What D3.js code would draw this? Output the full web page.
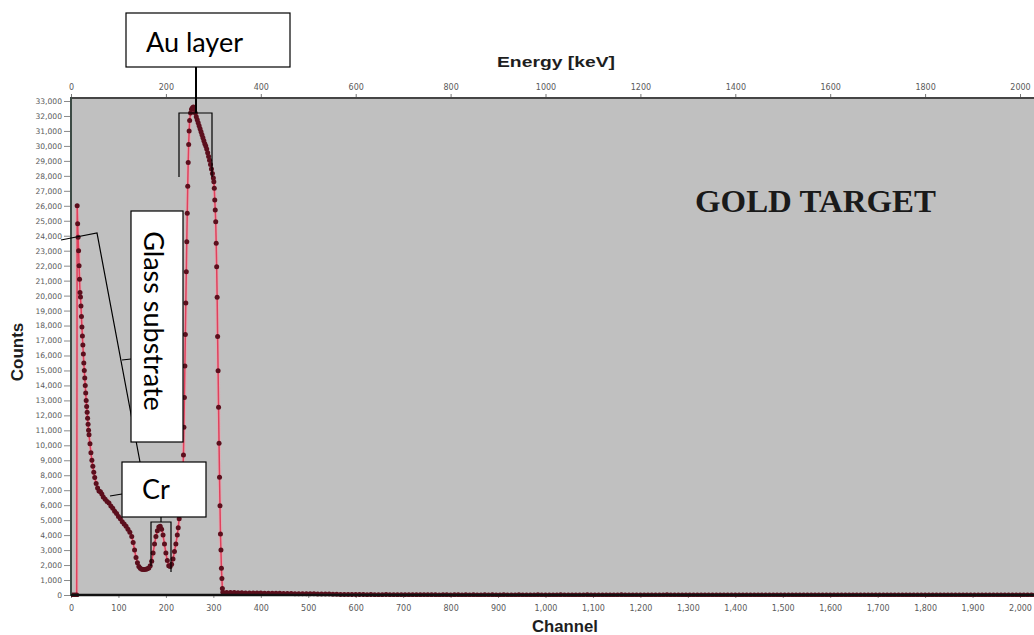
<!DOCTYPE html>
<html>
<head>
<meta charset="utf-8">
<script src="https://cdn.jsdelivr.net/npm/d3@7"></script>
<style>
  body { margin: 0; background: #fff; }
  svg { display: block; }
</style>
</head>
<body>
<svg id="chart" width="1034" height="635"></svg>
<script>
// Spectrum: channel numbers and measured counts (Au / Cr / glass RBS spectrum)
const channel = [
  0, 4, 8, 12, 13, 14, 15, 16, 17, 18, 19, 20, 21, 22, 23, 24, 25, 26, 27, 28,
  29, 30, 31, 32, 33, 34, 35, 36, 37, 38, 40, 42, 44, 46, 48, 50, 53, 56, 59, 62,
  65, 68, 72, 76, 80, 84, 88, 92, 96, 100, 104, 108, 112, 116, 120, 124, 128, 131, 134, 137,
  140, 143, 146, 149, 152, 155, 158, 161, 164, 167, 170, 173, 176, 179, 182, 185, 188, 191, 194, 197,
  200, 203, 206, 209, 212, 215, 218, 221, 224, 226, 228, 230, 232, 234, 236, 237, 238, 239, 240, 241,
  242, 243, 244, 245, 246, 247, 248, 249, 250, 252, 254, 256, 258, 260, 262, 264, 266, 268, 270, 272,
  274, 276, 278, 280, 282, 284, 286, 288, 290, 292, 294, 296, 298, 300, 301, 302, 303, 304, 305, 306,
  307, 308, 309, 310, 311, 312, 313, 314, 315, 316, 317, 318, 319, 320
];
const counts = [
  0, 0, 0, 0, 26000, 24800, 23900, 23000, 22000, 21100, 20200, 19900, 19300, 18600, 17900, 17300, 16700, 16100, 15500, 15000,
  14500, 14000, 13500, 13000, 12600, 12200, 11800, 11400, 11000, 10700, 10100, 9500, 9000, 8600, 8200, 7850, 7450, 7150, 6950, 6900,
  6750, 6550, 6400, 6250, 6150, 5950, 5800, 5600, 5450, 5250, 5100, 4900, 4750, 4600, 4400, 4200, 3900, 3500, 3000, 2500,
  2150, 1900, 1780, 1720, 1700, 1700, 1720, 1760, 1800, 1950, 2250, 2800, 3400, 3900, 4300, 4550, 4600, 4400, 4000, 3400,
  2800, 2300, 1950, 1900, 2050, 2400, 2900, 3400, 4000, 4500, 5100, 5700, 6500, 7500, 8500, 9350, 11200, 13200, 15300, 17400,
  19500, 21600, 23600, 25500, 27300, 28900, 30100, 31000, 31700, 32200, 32450, 32550, 32600, 32450, 32200, 31950, 31750, 31550, 31350, 31150,
  30950, 30750, 30550, 30350, 30150, 30000, 29800, 29550, 29300, 29050, 28750, 28450, 28150, 27850, 27600, 27170, 26390, 25720, 24940, 23490,
  21930, 19890, 17260, 14980, 12540, 10130, 7860, 5970, 4070, 3000, 1780, 1110, 440, 180
];

// Background tail beyond the Au edge, one reading every 8 channels from channel 328
const tailStart = 328;
const tailStep = 8;
const tailCounts = [
  170, 160, 160, 150, 150, 140, 140, 130, 130, 130, 120, 120, 120, 110, 110, 100, 100, 100, 90, 90,
  90, 80, 80, 80, 70, 70, 60, 60, 50, 50, 40, 40, 40, 30, 30, 30, 30, 20, 30, 20,
  20, 20, 30, 20, 20, 10, 20, 20, 10, 20, 10, 10, 20, 10, 10, 10, 0, 10, 10, 0,
  10, 10, 0, 10, 0, 10, 0, 0, 10, 0, 10, 0, 0, 10, 0, 0, 0, 10, 0, 0,
  0, 0, 10, 0, 0, 0, 0, 0, 10, 0, 0, 0, 0, 0, 0, 10, 0, 0, 0, 0,
  0, 0, 0, 0, 10, 0, 0, 0, 0, 0, 0, 0, 0, 0, 0, 0, 10, 0, 0, 0,
  0, 0, 0, 0, 0, 0, 0, 0, 0, 0, 0, 0, 0, 0, 0, 0, 0, 0, 0, 0,
  0, 0, 0, 0, 0, 0, 0, 0, 0, 0, 0, 0, 0, 0, 0, 0, 0, 0, 0, 0,
  0, 0, 0, 0, 0, 0, 0, 0, 0, 0, 0, 0, 0, 0, 0, 0, 0, 0, 0, 0,
  0, 0, 0, 0, 0, 0, 0, 0, 0, 0, 0, 0, 0, 0, 0, 0, 0, 0, 0, 0,
  0, 0, 0, 0, 0, 0, 0, 0, 0, 0, 0, 0, 0, 0, 0
];

// Axis tick values
const countTicks = [0, 1000, 2000, 3000, 4000, 5000, 6000, 7000, 8000, 9000, 10000, 11000, 12000,
  13000, 14000, 15000, 16000, 17000, 18000, 19000, 20000, 21000, 22000, 23000, 24000, 25000,
  26000, 27000, 28000, 29000, 30000, 31000, 32000, 33000];
const channelTicks = [0, 100, 200, 300, 400, 500, 600, 700, 800, 900, 1000, 1100, 1200, 1300,
  1400, 1500, 1600, 1700, 1800, 1900, 2000];
const energyTicks = [0, 200, 400, 600, 800, 1000, 1200, 1400, 1600, 1800, 2000];

// Callout texts
const auLabel = "Au layer";
const glassLabel = "Glass substrate";
const crLabel = "Cr";
const titleText = "GOLD TARGET";

const points = channel.map((c, i) => ({ ch: c, n: counts[i] }))
  .concat(tailCounts.map((n, i) => ({ ch: tailStart + i * tailStep, n })));

const svg = d3.select("#chart");
const W = 1034, H = 635;
const plot = { left: 71, top: 98, bottom: 595, right: W + 4 };

const x = d3.scaleLinear().domain([0, 2000]).range([71, 1020]);
const xE = d3.scaleLinear().domain([0, 2000]).range([71, 1020]);
const y = d3.scaleLinear().domain([0, 33000]).range([595, 101]);

svg.append("rect").attr("width", W).attr("height", H).attr("fill", "#fff");

// plot background
svg.append("rect")
  .attr("x", plot.left).attr("y", plot.top)
  .attr("width", plot.right - plot.left).attr("height", plot.bottom - plot.top)
  .attr("fill", "#c0c0c0");

svg.append("clipPath").attr("id", "plotclip")
  .append("rect")
  .attr("x", plot.left).attr("y", plot.top - 2)
  .attr("width", plot.right - plot.left).attr("height", plot.bottom - plot.top + 4);

const tickFont = "'DejaVu Sans', sans-serif";

// left axis (counts)
const gy = svg.append("g").attr("transform", `translate(${plot.left},0)`)
  .call(d3.axisLeft(y).tickValues(countTicks).tickSize(7).tickPadding(2).tickFormat(d3.format(",")));
gy.select(".domain").remove();
gy.selectAll(".tick line").attr("stroke", "#8a8a8a").attr("x2", -7).attr("x1", -1);
gy.selectAll(".tick text").attr("fill", "#5a5a5a").style("font-family", tickFont).style("font-size", "7.6px");

// bottom axis (channel)
const gx = svg.append("g").attr("transform", `translate(0,${plot.bottom})`)
  .call(d3.axisBottom(x).tickValues(channelTicks).tickSize(3).tickPadding(7).tickFormat(d3.format(",")));
gx.select(".domain").remove();
gx.selectAll(".tick line").attr("stroke", "#8a8a8a");
gx.selectAll(".tick text").attr("fill", "#5a5a5a").style("font-family", tickFont).style("font-size", "8px");

// top axis (energy)
const gt = svg.append("g").attr("transform", `translate(0,${plot.top})`)
  .call(d3.axisTop(xE).tickValues(energyTicks).tickSize(4).tickPadding(4).tickFormat(d3.format("d")));
gt.select(".domain").remove();
gt.selectAll(".tick line").attr("stroke", "#777");
gt.selectAll(".tick text").attr("fill", "#5a5a5a").style("font-family", tickFont).style("font-size", "8px");

// spectrum line and markers
const gData = svg.append("g").attr("clip-path", "url(#plotclip)");
const line = d3.line().x(d => x(d.ch)).y(d => y(d.n));
gData.append("path").datum(points)
  .attr("d", line).attr("fill", "none")
  .attr("stroke", "#f0a0ac").attr("stroke-width", 3.6).attr("opacity", 0.6);
gData.append("path").datum(points)
  .attr("d", line).attr("fill", "none")
  .attr("stroke", "#e0405c").attr("stroke-width", 1.5);
gData.selectAll("circle").data(points).join("circle")
  .attr("cx", d => x(d.ch)).attr("cy", d => y(d.n))
  .attr("r", 2.5).attr("fill", "#5c0f1d");

// frame lines
svg.append("line").attr("x1", plot.left).attr("x2", W).attr("y1", plot.top).attr("y2", plot.top)
  .attr("stroke", "#454545").attr("stroke-width", 2);
svg.append("line").attr("x1", plot.left).attr("x2", plot.left).attr("y1", plot.top - 1).attr("y2", plot.bottom + 1)
  .attr("stroke", "#3c4a44").attr("stroke-width", 2);
svg.append("line").attr("x1", plot.left).attr("x2", W).attr("y1", plot.bottom).attr("y2", plot.bottom)
  .attr("stroke", "#111").attr("stroke-width", 2.5);

// axis titles
const titleFont = "'Liberation Sans', Arial, sans-serif";
svg.append("text").text("Energy [keV]")
  .attr("x", 497).attr("y", 67)
  .attr("textLength", 118).attr("lengthAdjust", "spacingAndGlyphs")
  .style("font-family", titleFont).style("font-weight", "bold").style("font-size", "15px").attr("fill", "#1e1e1e");
svg.append("text").text("Channel")
  .attr("x", 532).attr("y", 632)
  .attr("textLength", 66).attr("lengthAdjust", "spacingAndGlyphs")
  .style("font-family", titleFont).style("font-weight", "bold").style("font-size", "16px").attr("fill", "#1e1e1e");
svg.append("text").text("Counts")
  .attr("transform", "translate(23,352) rotate(-90)")
  .attr("text-anchor", "middle")
  .style("font-family", titleFont).style("font-weight", "bold").style("font-size", "17px").attr("fill", "#1e1e1e");

// chart label
svg.append("text").text(titleText)
  .attr("x", 695).attr("y", 212)
  .attr("textLength", 241).attr("lengthAdjust", "spacingAndGlyphs")
  .style("font-family", "'Liberation Serif', 'Times New Roman', serif")
  .style("font-weight", "bold").style("font-size", "31px").attr("fill", "#1a1a1a");

// callouts
const calloutFont = "Lato, 'Open Sans', sans-serif";
const ann = svg.append("g").attr("fill", "none").attr("stroke", "#000");

// leader lines behind the boxes
ann.append("path").attr("d", "M61,240 L97,233 L140,462").attr("stroke-width", 1.2);
ann.append("path").attr("d", "M122,360 L131,359").attr("stroke-width", 1.2);
ann.append("path").attr("d", "M110,496 L122,494").attr("stroke-width", 1.2);
ann.append("path").attr("d", "M196,67 L196,113").attr("stroke-width", 2);
ann.append("path").attr("d", "M179,177 L179,113 L212,113 L212,177").attr("stroke-width", 1.2);
ann.append("path").attr("d", "M161,517 L161,522").attr("stroke-width", 1.2);
ann.append("path").attr("d", "M151,566 L151,522 L171,522 L171,572").attr("stroke-width", 1.2);

// boxes
const boxes = [
  { x: 126, y: 13, w: 164, h: 54 },
  { x: 131, y: 211, w: 52, h: 231 },
  { x: 122, y: 462, w: 84, h: 55 }
];
svg.selectAll("rect.callout").data(boxes).join("rect")
  .attr("class", "callout")
  .attr("x", d => d.x).attr("y", d => d.y).attr("width", d => d.w).attr("height", d => d.h)
  .attr("fill", "#fff").attr("stroke", "#000").attr("stroke-width", 1.2);

svg.append("text").text(auLabel)
  .attr("x", 146).attr("y", 52)
  .style("font-family", calloutFont).style("font-size", "27px").attr("fill", "#000");
svg.append("text").text(glassLabel)
  .attr("transform", "translate(143.5,321) rotate(90)")
  .attr("text-anchor", "middle")
  .style("font-family", calloutFont).style("font-size", "27px").attr("fill", "#000");
svg.append("text").text(crLabel)
  .attr("x", 142).attr("y", 499)
  .style("font-family", calloutFont).style("font-size", "27px").attr("fill", "#000");
</script>
</body>
</html>
